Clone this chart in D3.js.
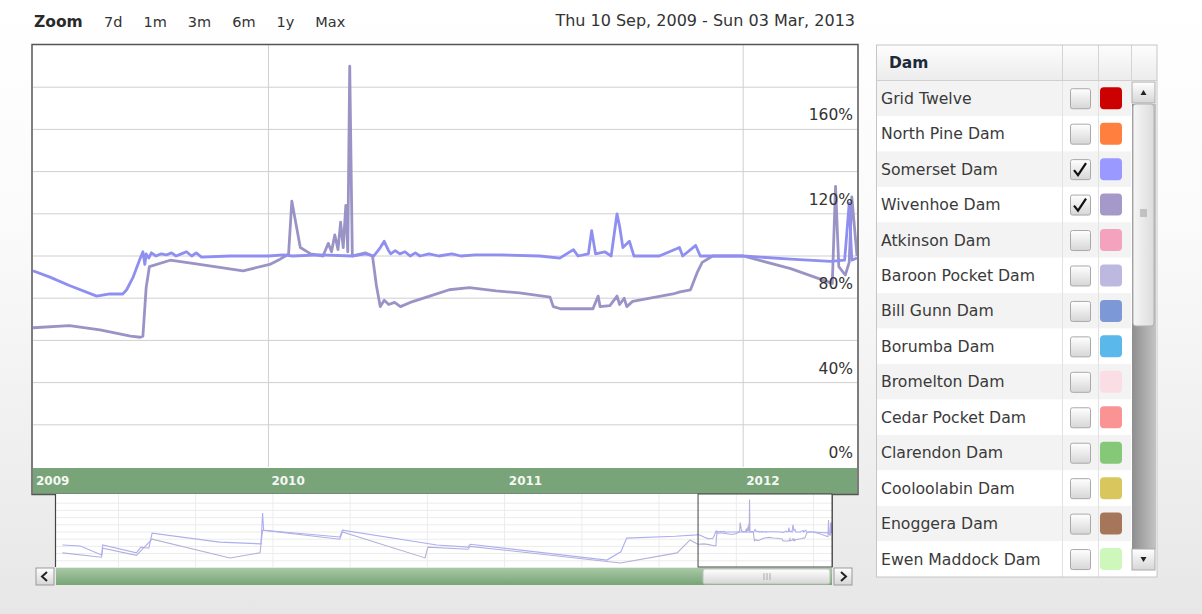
<!DOCTYPE html>
<html>
<head>
<meta charset="utf-8">
<script src="https://cdn.jsdelivr.net/npm/d3@7"></script>
<style>
body{margin:0;width:1202px;height:614px;overflow:hidden;background:linear-gradient(#ffffff 0%,#fbfbfb 35%,#e7e7e7 100%)}
text{font-family:"DejaVu Sans",Verdana,sans-serif}
</style>
</head>
<body>
<script>
// ---- data ----
const zoomLabels = ["7d", "1m", "3m", "6m", "1y", "Max"];
const dateRangeText = "Thu 10 Sep, 2009 - Sun 03 Mar, 2013";
const yTicks = [0, 40, 80, 120, 160];

const somersetDates = ["2009-01-04","2009-01-30","2009-03-01","2009-04-12","2009-05-02","2009-05-22","2009-05-28","2009-06-07","2009-06-18","2009-06-22","2009-06-25","2009-06-27","2009-07-01","2009-07-05","2009-07-12","2009-07-20","2009-07-28","2009-08-05","2009-08-12","2009-08-20","2009-08-28","2009-09-05","2009-09-12","2009-09-20","2009-11-03","2010-01-01","2010-01-24","2010-02-07","2010-03-21","2010-05-10","2010-05-30","2010-06-12","2010-06-22","2010-06-28","2010-07-04","2010-07-08","2010-07-15","2010-07-22","2010-07-30","2010-08-07","2010-08-15","2010-08-22","2010-09-05","2010-09-20","2010-10-10","2010-10-24","2010-11-15","2010-12-24","2011-02-22","2011-03-25","2011-04-15","2011-04-22","2011-05-08","2011-05-13","2011-05-19","2011-06-02","2011-06-12","2011-06-21","2011-06-25","2011-06-30","2011-07-10","2011-07-17","2011-08-25","2011-09-25","2011-09-30","2011-10-20","2011-10-27","2012-01-01","2012-03-14","2012-05-14","2012-06-05","2012-06-12","2012-06-16","2012-06-24"];
const somersetValues = [93,90,86,81,82,82,84,90,99,102,96,101,99,101.5,100,101,100.5,101.5,100,101,102,100,101.5,99.5,100,100,100.5,100,100.5,100,101,100,104,107,103,101,102.5,101,102,100,101.5,100,101,100,101,100,100.5,100.5,100,99,103,100,101,112,101,102,100,120,114,104,107,100,100,104,100,105,100,100,98.5,97.5,98,125,98,99];

const wivenhoeDates = ["2009-01-04","2009-03-01","2009-04-17","2009-06-03","2009-06-18","2009-06-22","2009-06-27","2009-07-02","2009-08-03","2009-09-17","2009-11-23","2010-01-03","2010-01-19","2010-01-27","2010-02-01","2010-02-06","2010-02-19","2010-03-07","2010-03-26","2010-04-03","2010-04-08","2010-04-13","2010-04-18","2010-04-22","2010-04-26","2010-04-30","2010-05-03","2010-05-06","2010-05-10","2010-05-30","2010-06-10","2010-06-16","2010-06-22","2010-06-28","2010-07-05","2010-07-14","2010-07-23","2010-08-07","2010-09-06","2010-10-06","2010-11-06","2010-12-17","2011-01-22","2011-03-10","2011-03-15","2011-03-26","2011-05-15","2011-05-23","2011-05-26","2011-06-10","2011-06-21","2011-06-25","2011-07-02","2011-07-06","2011-07-15","2011-09-15","2011-09-26","2011-10-12","2011-10-22","2011-10-30","2011-11-15","2012-01-01","2012-03-14","2012-05-17","2012-05-22","2012-05-27","2012-06-06","2012-06-12","2012-06-16","2012-06-24"];
const wivenhoeValues = [66,67,65,62,61.5,62,85,95,98,96,93,96,98.5,100,101,126,104,101,100,106,102,110,103,116,104,124,102,190,100,101.5,100,86,76,79,77,78,76,78,81,84,85,83.5,82.5,80.5,76,75,75,81,76,76.5,81,77,80,76,78.5,82,83,84,92,97,100,100,94,87,133,95,91,97,128,100];

// long history shown only in the navigator
const somersetHistDates = ["1992-07-20","1993-01-05","1993-07-25","1993-08-05","1994-06-20","1994-08-01","1994-10-15","1994-11-15","1996-08-15","1997-09-10","1997-09-25","1997-10-05","1999-09-25","1999-10-20","2002-04-01","2003-01-20","2003-02-10","2006-08-25","2007-01-05","2007-03-01","2008-06-01","2008-12-20"];
const somersetHistValues = [64,61,36,64,42,58,55,97,72,67,153,105,86,105,64,58,66,22,45,83,88,92];
const wivenhoeHistDates = ["1992-07-20","1993-07-25","1993-08-05","1994-06-20","1994-11-15","1996-11-20","1997-09-01","1997-09-25","1999-09-25","1999-10-20","2001-12-10","2002-01-05","2003-01-20","2003-02-10","2007-01-01","2008-06-20","2008-10-20","2008-12-20"];
const wivenhoeHistValues = [42,30,55,35,80,28,42,105,80,100,28,58,52,60,14,42,78,68];

const damNames = ["Grid Twelve","North Pine Dam","Somerset Dam","Wivenhoe Dam","Atkinson Dam","Baroon Pocket Dam","Bill Gunn Dam","Borumba Dam","Bromelton Dam","Cedar Pocket Dam","Clarendon Dam","Cooloolabin Dam","Enoggera Dam","Ewen Maddock Dam"];
const damColors = ["#cc0000","#ff7f3f","#9999ff","#a499c9","#f4a3bf","#bcb8e0","#7c98d6","#5bb8ea","#fbdde6","#fa9393","#85c878","#d9c75e","#a6765a","#cef7bc"];
const damChecked = [false,false,true,true,false,false,false,false,false,false,false,false,false,false];

const somersetColor = "#8f8ff2";
const wivenhoeColor = "#9a94c6";

function main(){
    const width = 1202;
    const height = 614;
    const parse = d3.timeParse("%Y-%m-%d");

    const svg = d3.select("body").append("svg")
        .attr("width", width)
        .attr("height", height);

    const defs = svg.append("defs");
    const gBtn = defs.append("linearGradient").attr("id","btnGrad").attr("x1",0).attr("y1",0).attr("x2",0).attr("y2",1);
    gBtn.append("stop").attr("offset","0%").attr("stop-color","#ffffff");
    gBtn.append("stop").attr("offset","100%").attr("stop-color","#d6d6d6");
    const gGreen = defs.append("linearGradient").attr("id","greenGrad").attr("x1",0).attr("y1",0).attr("x2",0).attr("y2",1);
    gGreen.append("stop").attr("offset","0%").attr("stop-color","#a9c9a6");
    gGreen.append("stop").attr("offset","100%").attr("stop-color","#78a476");
    const gHead = defs.append("linearGradient").attr("id","headGrad").attr("x1",0).attr("y1",0).attr("x2",0).attr("y2",1);
    gHead.append("stop").attr("offset","0%").attr("stop-color","#fdfdfd");
    gHead.append("stop").attr("offset","100%").attr("stop-color","#ececec");
    const gTrack = defs.append("linearGradient").attr("id","trackGrad").attr("x1",0).attr("y1",0).attr("x2",1).attr("y2",0);
    gTrack.append("stop").attr("offset","0%").attr("stop-color","#8e8e8e");
    gTrack.append("stop").attr("offset","100%").attr("stop-color","#c4c4c4");
    const gThumb = defs.append("linearGradient").attr("id","thumbGrad").attr("x1",0).attr("y1",0).attr("x2",1).attr("y2",0);
    gThumb.append("stop").attr("offset","0%").attr("stop-color","#f6f6f6");
    gThumb.append("stop").attr("offset","100%").attr("stop-color","#dcdcdc");

    // ---- top bar ----
    svg.append("text")
        .attr("x", 34).attr("y", 27)
        .attr("font-size", "15.5px").attr("font-weight", "bold")
        .attr("fill", "#2a2a2a")
        .text("Zoom");

    let zx = 104;
    svg.append("g").selectAll("text")
        .data(zoomLabels)
        .enter()
        .append("text")
        .attr("y", 27)
        .attr("font-size", "14.5px")
        .attr("fill", "#333")
        .text(d => d)
        .each(function(){
            d3.select(this).attr("x", zx);
            zx += this.getComputedTextLength() + 21;
        });

    svg.append("text")
        .attr("x", 855).attr("y", 26)
        .attr("text-anchor", "end")
        .attr("font-size", "16px")
        .attr("fill", "#333")
        .text(dateRangeText);

    // ---- main chart ----
    const left = 33, right = 857, top = 45, bottom = 467;
    const x = d3.scaleTime()
        .domain([parse("2009-01-04"), parse("2012-06-24")])
        .range([left, right]);
    const y = d3.scaleLinear().domain([0, 200]).range([bottom, top]);

    svg.append("rect")
        .attr("x", left).attr("y", top)
        .attr("width", right - left).attr("height", 494 - top)
        .attr("fill", "#fff");

    const grid = svg.append("g");
    grid.selectAll("line.h")
        .data(d3.range(20, 200, 20))
        .enter()
        .append("line")
        .attr("x1", left).attr("x2", right)
        .attr("y1", d => y(d)).attr("y2", d => y(d))
        .attr("stroke", "#cfcfcf").attr("stroke-width", 1);
    grid.selectAll("line.v")
        .data(x.ticks(d3.timeYear.every(2)))
        .enter()
        .append("line")
        .attr("x1", d => x(d)).attr("x2", d => x(d))
        .attr("y1", top).attr("y2", bottom)
        .attr("stroke", "#cfcfcf").attr("stroke-width", 1);

    const line = d3.line()
        .x(d => x(d.date))
        .y(d => y(d.value));

    const somerset = somersetDates.map((d, i) => ({date: parse(d), value: somersetValues[i]}));
    const wivenhoe = wivenhoeDates.map((d, i) => ({date: parse(d), value: wivenhoeValues[i]}));

    defs.append("clipPath").attr("id","plotClip")
        .append("rect").attr("x", left).attr("y", top).attr("width", right - left).attr("height", bottom - top);

    const plot = svg.append("g").attr("clip-path", "url(#plotClip)");
    plot.append("path")
        .datum(wivenhoe)
        .attr("d", line)
        .attr("fill", "none")
        .attr("stroke", wivenhoeColor)
        .attr("stroke-width", 2.8)
        .attr("stroke-linejoin", "round");
    plot.append("path")
        .datum(somerset)
        .attr("d", line)
        .attr("fill", "none")
        .attr("stroke", somersetColor)
        .attr("stroke-width", 2.8)
        .attr("stroke-linejoin", "round");

    svg.append("g").selectAll("text")
        .data(yTicks)
        .enter()
        .append("text")
        .attr("x", 853)
        .attr("y", d => y(d) - 9)
        .attr("text-anchor", "end")
        .attr("font-size", "15.5px")
        .attr("fill", "#333")
        .text(d => d + "%");

    // green year band
    svg.append("rect")
        .attr("x", left).attr("y", 468)
        .attr("width", right - left).attr("height", 26)
        .attr("fill", "#79a378");
    svg.append("g").selectAll("text")
        .data(d3.timeYear.range(d3.timeYear.floor(x.domain()[0]), x.domain()[1]))
        .enter()
        .append("text")
        .attr("x", d => Math.max(x(d), left) + 3)
        .attr("y", 485)
        .attr("font-size", "12px")
        .attr("font-weight", "bold")
        .attr("fill", "#f4f8f2")
        .text(d => d.getFullYear());

    svg.append("rect")
        .attr("x", 32).attr("y", 44.5)
        .attr("width", 826).attr("height", 450)
        .attr("fill", "none")
        .attr("stroke", "#555").attr("stroke-width", 1.5);

    // ---- navigator ----
    const nl = 56, nr = 832, nt = 494, nb = 567;
    const nx = d3.scaleTime()
        .domain([parse("1992-05-20"), parse("2012-06-24")])
        .range([nl, nr]);
    const ny = d3.scaleLinear().domain([0, 200]).range([568, 496]);

    svg.append("rect")
        .attr("x", nl).attr("y", nt)
        .attr("width", nr - nl).attr("height", nb - nt)
        .attr("fill", "#fff");

    const ngrid = svg.append("g");
    ngrid.selectAll("line.h")
        .data(d3.range(20, 200, 20))
        .enter()
        .append("line")
        .attr("x1", nl).attr("x2", nr)
        .attr("y1", d => ny(d)).attr("y2", d => ny(d))
        .attr("stroke", "#ececec");
    ngrid.selectAll("line.v")
        .data(nx.ticks(d3.timeYear.every(2)))
        .enter()
        .append("line")
        .attr("x1", d => nx(d)).attr("x2", d => nx(d))
        .attr("y1", nt).attr("y2", nb)
        .attr("stroke", "#ececec");

    const somersetNav = somersetHistDates.map((d, i) => ({date: parse(d), value: somersetHistValues[i]})).concat(somerset);
    const wivenhoeNav = wivenhoeHistDates.map((d, i) => ({date: parse(d), value: wivenhoeHistValues[i]})).concat(wivenhoe);
    const navLine = d3.line().x(d => nx(d.date)).y(d => ny(d.value));

    defs.append("clipPath").attr("id","navClip")
        .append("rect").attr("x", nl).attr("y", nt).attr("width", nr - nl).attr("height", nb - nt);
    const nav = svg.append("g").attr("clip-path", "url(#navClip)");
    nav.append("path").datum(wivenhoeNav).attr("d", navLine)
        .attr("fill", "none").attr("stroke", "#b4b0da").attr("stroke-width", 1.1);
    nav.append("path").datum(somersetNav).attr("d", navLine)
        .attr("fill", "none").attr("stroke", "#aeaef2").attr("stroke-width", 1.1);

    // selected window
    const w0 = nx(x.domain()[0]), w1 = nx(x.domain()[1]);
    svg.append("rect")
        .attr("x", w0).attr("y", nt)
        .attr("width", w1 - w0).attr("height", nb - nt)
        .attr("fill", "none").attr("stroke", "#444").attr("stroke-width", 1);
    svg.append("line")
        .attr("x1", nl - 0.5).attr("x2", nl - 0.5).attr("y1", nt).attr("y2", nb)
        .attr("stroke", "#444").attr("stroke-width", 1.2);
    svg.append("line")
        .attr("x1", nr + 0.5).attr("x2", nr + 0.5).attr("y1", nt).attr("y2", nb)
        .attr("stroke", "#555").attr("stroke-width", 1);

    // scrollbar
    svg.append("rect")
        .attr("x", nl).attr("y", 568)
        .attr("width", nr - nl).attr("height", 17)
        .attr("fill", "url(#greenGrad)");
    svg.append("rect")
        .attr("x", 703).attr("y", 569)
        .attr("width", 127).attr("height", 15)
        .attr("rx", 2)
        .attr("fill", "url(#btnGrad)").attr("stroke", "#bdbdbd");
    svg.append("g").selectAll("line")
        .data([-3, 0, 3])
        .enter()
        .append("line")
        .attr("x1", d => 767 + d).attr("x2", d => 767 + d)
        .attr("y1", 573).attr("y2", 580)
        .attr("stroke", "#aaa");

    const arrows = [{x: 36, dir: -1}, {x: 834, dir: 1}];
    const arr = svg.append("g").selectAll("g")
        .data(arrows)
        .enter()
        .append("g")
        .attr("transform", d => "translate(" + d.x + ",568)");
    arr.append("rect")
        .attr("width", 18).attr("height", 17)
        .attr("fill", "url(#btnGrad)").attr("stroke", "#999");
    arr.append("path")
        .attr("d", d => d.dir < 0 ? "M11,4 L6,8.5 L11,13" : "M7,4 L12,8.5 L7,13")
        .attr("fill", "none").attr("stroke", "#222").attr("stroke-width", 2);

    // ---- dam table ----
    const tl = 876.5, tr = 1131, tt = 45, headB = 80.5;
    const rowY = d3.scaleLinear().domain([0, 1]).range([headB, headB + 35.45]);
    const rowH = rowY(1) - rowY(0);

    svg.append("rect")
        .attr("x", tl).attr("y", tt)
        .attr("width", 1157 - tl).attr("height", 577 - tt)
        .attr("fill", "#fff");
    svg.append("rect")
        .attr("x", tl).attr("y", tt)
        .attr("width", 1157 - tl).attr("height", headB - tt)
        .attr("fill", "url(#headGrad)");
    svg.append("text")
        .attr("x", 889).attr("y", 68)
        .attr("font-size", "15.5px").attr("font-weight", "bold")
        .attr("fill", "#1e2a3a")
        .text("Dam");
    svg.append("g").selectAll("line")
        .data([1062, 1098, 1131])
        .enter()
        .append("line")
        .attr("x1", d => d + 0.5).attr("x2", d => d + 0.5)
        .attr("y1", tt).attr("y2", headB)
        .attr("stroke", "#d4d4d4");

    const rows = svg.append("g").selectAll("g")
        .data(damNames)
        .enter()
        .append("g")
        .attr("transform", (d, i) => "translate(0," + rowY(i) + ")");
    rows.append("rect")
        .attr("x", tl).attr("width", tr - tl).attr("height", rowH)
        .attr("fill", (d, i) => i % 2 === 0 ? "#f3f3f3" : "#ffffff");
    rows.append("text")
        .attr("x", 881).attr("y", rowH / 2 + 5.5)
        .attr("font-size", "15.7px")
        .attr("fill", "#3a3a3a")
        .text(d => d);
    rows.append("rect")
        .attr("x", 1070.5).attr("y", rowH / 2 - 9.5)
        .attr("width", 20).attr("height", 20)
        .attr("rx", 2)
        .attr("fill", "url(#btnGrad)").attr("stroke", "#a9a9a9");
    rows.filter((d, i) => damChecked[i])
        .append("path")
        .attr("d", "M1074," + (rowH / 2 + 1) + " l4,5 l8,-12")
        .attr("fill", "none").attr("stroke", "#111").attr("stroke-width", 2.2);
    rows.append("rect")
        .attr("x", 1100).attr("y", rowH / 2 - 11)
        .attr("width", 22).attr("height", 22)
        .attr("rx", 4)
        .attr("fill", (d, i) => damColors[i]);

    svg.append("g").selectAll("line")
        .data([1062, 1098])
        .enter()
        .append("line")
        .attr("x1", d => d + 0.5).attr("x2", d => d + 0.5)
        .attr("y1", headB).attr("y2", 577)
        .attr("stroke", "#e2e2e2");
    svg.append("line")
        .attr("x1", tl).attr("x2", 1157).attr("y1", headB).attr("y2", headB)
        .attr("stroke", "#cfcfcf");

    // table scrollbar
    svg.append("rect")
        .attr("x", 1132).attr("y", 104)
        .attr("width", 24).attr("height", 445)
        .attr("fill", "url(#trackGrad)");
    svg.append("rect")
        .attr("x", 1133).attr("y", 104)
        .attr("width", 21).attr("height", 222)
        .attr("rx", 3)
        .attr("fill", "url(#thumbGrad)").attr("stroke", "#b0b0b0");
    svg.append("g").selectAll("line")
        .data([-3, -1, 1, 3])
        .enter()
        .append("line")
        .attr("x1", 1140).attr("x2", 1147)
        .attr("y1", d => 213 + d).attr("y2", d => 213 + d)
        .attr("stroke", "#999");
    const sb = svg.append("g").selectAll("g")
        .data([{y: 82, up: true}, {y: 549, up: false}])
        .enter()
        .append("g")
        .attr("transform", d => "translate(1132," + d.y + ")");
    sb.append("rect")
        .attr("width", 23).attr("height", 21)
        .attr("fill", "url(#btnGrad)").attr("stroke", "#aaa");
    sb.append("path")
        .attr("d", d => d.up ? "M8.5,13 L11.5,8 L14.5,13 Z" : "M8.5,8 L11.5,13 L14.5,8 Z")
        .attr("fill", "#222");

    svg.append("rect")
        .attr("x", tl).attr("y", tt)
        .attr("width", 1157 - tl).attr("height", 577 - tt)
        .attr("fill", "none").attr("stroke", "#c6c6c6");
}

main();
</script>
</body>
</html>
